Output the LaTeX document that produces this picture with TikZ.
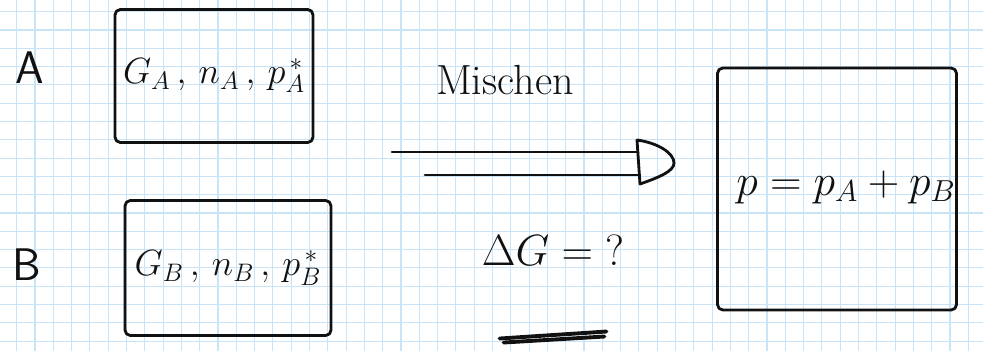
\documentclass[tikz,border=0pt]{standalone}
\usepackage{tikz}
\usetikzlibrary{positioning,arrows.meta,calc}
\definecolor{ink}   {HTML}{111111}
\definecolor{gridc} {HTML}{C9E3F7}
\tikzset{
  pen/.style     = {draw=ink, line width=1.6pt, line cap=round, line join=round},
  gridline/.style= {draw=gridc, line width=0.6pt},
  tag/.style     = {font=\sffamily\fontsize{26}{28}\selectfont, text=ink, inner sep=0pt},
  cell/.style    = {pen, rounded corners=3pt, inner sep=0pt, align=center,
                    font=\fontsize{21}{24}\selectfont, text=ink},
  hand/.style    = {font=\fontsize{24}{28}\selectfont, text=ink, inner sep=0pt},
  scribble/.style= {pen, line width=2.2pt},
}
\begin{document}
\begin{tikzpicture}[x=0.02cm, y=-0.02cm]
  \useasboundingbox[fill=white] (0,0) rectangle (983,351);

  % squared paper
  \foreach \gx in {16.7,35.0,...,983} \draw[gridline] (\gx,0) -- (\gx,351);
  \foreach \gy in {11.7,30.0,...,351} \draw[gridline] (0,\gy) -- (983,\gy);

  % the two pure gases
  \node[cell, minimum width=3.96cm, minimum height=2.66cm] (boxA) at (214,76)
       {$G_A\,,\, n_A\,,\, p_A^{\,*}$};
  \node[cell, minimum width=4.12cm, minimum height=2.7cm]  (boxB) at (228,268)
       {$G_B\,,\, n_B\,,\, p_B^{\,*}$};
  \node[tag] (labA) at (30,68)  {A};
  \node[tag] (labB) at (27,265) {B};

  % mixing step
  \node[hand] (mix) at (505,80)  {Mischen};
  \node[hand] (dG)  at (553,250) {$\Delta G = {?}$};
  \coordinate (arrS) at (392,163);
  \coordinate (arrE) at (674,163);
  \draw[pen] ($(arrS)+(0,-11)$) -- ($(arrE)+(-36,-11)$);
  \draw[pen] ($(arrS)+(33,12)$) -- ($(arrE)+(-36,12)$);
  \draw[pen] ($(arrE)+(-37,-23)$) -- ($(arrE)+(-34,21)$)
    .. controls ($(arrE)+(-14,14)$) and ($(arrE)+(0,8)$) .. (arrE)
    .. controls ($(arrE)+(0,-10)$) and ($(arrE)+(-16,-20)$) .. ($(arrE)+(-37,-23)$);
  \draw[scribble] ($(dG.south west)+(18,73)$) -- ($(dG.south east)+(-18,66)$);
  \draw[scribble] ($(dG.south west)+(22,77)$) -- ($(dG.south east)+(-20,71)$);

  % the mixture
  \node[cell, minimum width=4.78cm, minimum height=4.84cm] (boxP) at (837,189) {};
  \node[hand] (sum) at (846,187) {$p = p_A + p_B$};
\end{tikzpicture}
\end{document}
